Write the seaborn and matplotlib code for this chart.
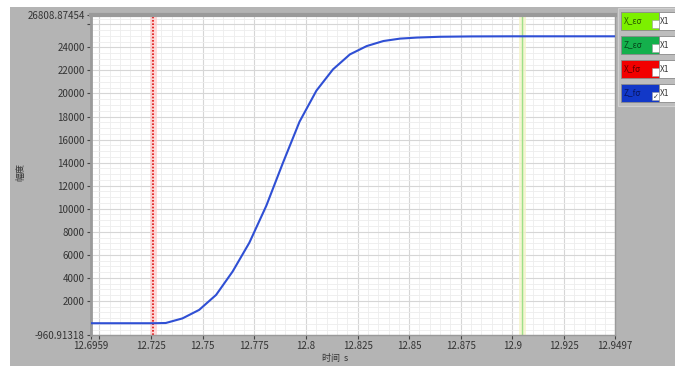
import matplotlib
matplotlib.use("Agg")
import matplotlib.pyplot as plt
from matplotlib.patches import Rectangle
from matplotlib.ticker import MultipleLocator
import pandas as pd
import seaborn as sns

# Measured response curve
time_s = [12.6959, 12.7150, 12.7261, 12.7321, 12.7402, 12.7483, 12.7565, 12.7645,
          12.7726, 12.7808, 12.7888, 12.7969, 12.8051, 12.8131, 12.8213, 12.8294,
          12.8375, 12.8456, 12.8537, 12.8650, 12.8800, 12.9000, 12.9200, 12.9497]
amplitude = [60, 60, 60, 80, 480, 1220, 2520, 4550,
             7050, 10250, 13950, 17550, 20250, 22090, 23390, 24110,
             24550, 24760, 24850, 24920, 24950, 24960, 24960, 24960]

# Axis ranges and ticks
x_min, x_max = 12.6959, 12.9497
y_min, y_max = -960.91318, 26808.87454
x_ticks = [12.6959, 12.7, 12.725, 12.75, 12.775, 12.8, 12.825, 12.85, 12.875,
           12.9, 12.925, 12.9497]
x_tick_labels = ["12.6959", "", "12.725", "12.75", "12.775", "12.8", "12.825",
                 "12.85", "12.875", "12.9", "12.925", "12.9497"]
y_ticks = [-960.91318, 2000, 4000, 6000, 8000, 10000, 12000, 14000, 16000,
           18000, 20000, 22000, 24000, 26000, 26808.87454]
y_tick_labels = ["-960.91318", "2000", "4000", "6000", "8000", "10000", "12000",
                 "14000", "16000", "18000", "20000", "22000", "24000", "",
                 "26808.87454"]

# Cursor positions
cursor_red = 12.7261
cursor_green = 12.9047

# Plot legend entries
legend_names = ["X_εσ", "Z_εσ", "X_fσ", "Z_fσ"]
legend_colors = ["#7cf000", "#14b04c", "#f20000", "#1238c8"]
legend_text_colors = ["#2a5a00", "#064a1c", "#600000", "#0a1660"]

sns.set_theme(style="white")
plt.rcParams["font.family"] = ["Noto Sans CJK SC", "DejaVu Sans"]

W, H = 675, 366
fig = plt.figure(figsize=(W / 100, H / 100), dpi=100, facecolor="white")

# Gray panel behind the graph
fig.patches.append(Rectangle((10 / W, 0), 1 - 10 / W, 1 - 7 / H,
                             transform=fig.transFigure, facecolor="#b4b4b4",
                             edgecolor="none", zorder=-10))

left, right, top, bottom = 91 / W, 615 / W, 15 / H, 335 / H
ax = fig.add_axes([left, 1 - bottom, right - left, bottom - top])
ax.set_facecolor("white")

df = pd.DataFrame({"时间": time_s, "幅度": amplitude})

# cursors with soft halos
ax.axvline(cursor_red, color="#ffc8c8", lw=5, alpha=0.7, zorder=1)
ax.axvline(cursor_red, color="#e01010", lw=1.2, ls=(0, (1, 1)), zorder=2)
ax.axvline(cursor_green, color="#f4f4c8", lw=5, alpha=0.8, zorder=1)
ax.axvline(cursor_green, color="#9ee08a", lw=1.0, zorder=2)

sns.lineplot(data=df, x="时间", y="幅度", ax=ax, color="#2f4fd4", lw=1.5,
             zorder=3, legend=False)

ax.set_xlim(x_min, x_max)
ax.set_ylim(y_min, y_max)
ax.set_xticks(x_ticks)
ax.set_xticklabels(x_tick_labels)
ax.set_yticks(y_ticks)
ax.set_yticklabels(y_tick_labels)
ax.xaxis.set_minor_locator(MultipleLocator(0.005))
ax.yaxis.set_minor_locator(MultipleLocator(500))

ax.grid(which="major", color="#d6d6d6", lw=0.8, zorder=0)
ax.grid(which="minor", color="#ededed", lw=0.6, zorder=0)
ax.set_axisbelow(True)

ax.tick_params(axis="both", which="major", direction="out", length=3, width=0.8,
               color="#444444", labelsize=7, labelcolor="#333333", pad=1.5,
               bottom=True, left=True)
ax.tick_params(which="minor", length=0)
for side, sp in ax.spines.items():
    sp.set_color("#9a9a9a")
    sp.set_linewidth(1.0)
ax.spines["top"].set_linewidth(3)
ax.spines["left"].set_linewidth(2)

ax.set_xlabel("")
ax.set_ylabel("")
fig.text(21 / W, 1 - 172 / H, "幅度", rotation=90, ha="center", va="center",
         fontsize=6.5, color="#333333")
fig.text(335 / W, 1 - 359 / H, "时间  s", ha="center", va="center",
         fontsize=6.5, color="#333333")

# Plot legend column on the right
fig.patches.append(Rectangle((618 / W, 1 - 106 / H), 57 / W, 98 / H,
                             transform=fig.transFigure, facecolor="#bdbdbd",
                             edgecolor="#d0d0d0", lw=0.8, zorder=0))
row_centers = [21, 45, 69, 93]
for name, col, tcol, yc in zip(legend_names, legend_colors, legend_text_colors,
                               row_centers):
    h = 17
    y0 = 1 - (yc + h / 2) / H
    fig.patches.append(Rectangle((621 / W, y0), 38 / W, h / H,
                                 transform=fig.transFigure, facecolor=col,
                                 edgecolor="#8a8a8a", lw=0.6, zorder=1))
    fig.patches.append(Rectangle((652 / W, y0 + 2 / H), 7 / W, 7 / H,
                                 transform=fig.transFigure, facecolor="white",
                                 edgecolor="#9a9a9a", lw=0.4, zorder=2))
    fig.patches.append(Rectangle((659 / W, y0), 16 / W, h / H,
                                 transform=fig.transFigure, facecolor="white",
                                 edgecolor="#8a8a8a", lw=0.6, zorder=1))
    fig.text(624 / W, 1 - yc / H, name, ha="left", va="center", fontsize=6,
             color=tcol, style="italic")
    fig.text(660 / W, 1 - yc / H, "X1", ha="left", va="center", fontsize=6,
             color="#333333")
fig.text(655.5 / W, 1 - 97 / H, "✓", ha="center", va="center", fontsize=5,
         color="#333333", family="DejaVu Sans")

fig.savefig("out.png", dpi=100, facecolor=fig.get_facecolor())
